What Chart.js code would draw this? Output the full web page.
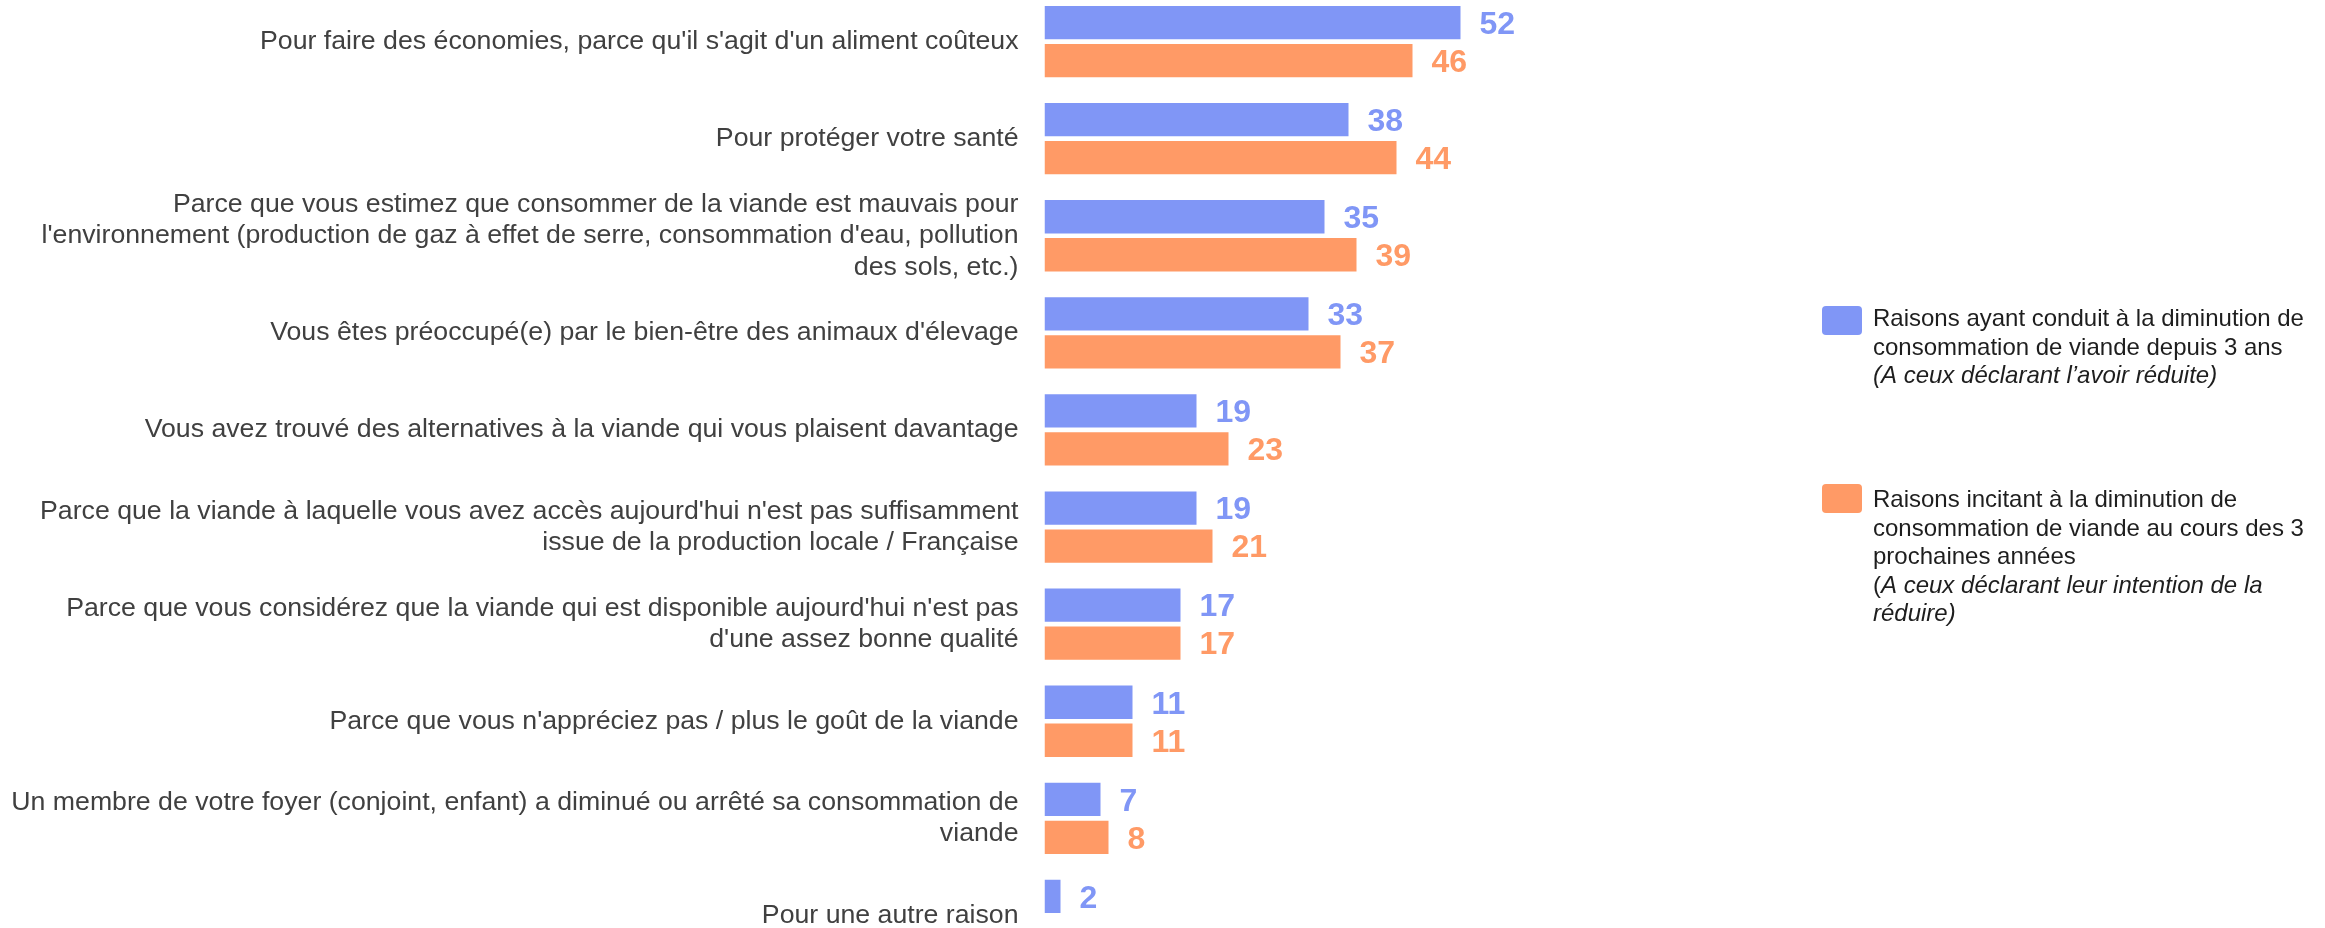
<!DOCTYPE html>
<html>
<head>
<meta charset="utf-8">
<script src="https://cdn.jsdelivr.net/npm/chart.js@4.4.1/dist/chart.umd.min.js"></script>
<style>
  html, body { margin: 0; padding: 0; background: #ffffff; overflow: hidden; width: 2325px; height: 928px; }
  #wrap { position: absolute; left: 0; top: -7px; width: 2325px; height: 971px; }
</style>
</head>
<body>
<div id="wrap"><canvas id="c" width="2325" height="971"></canvas></div>
<script>
const categories = [
  "Pour faire des économies, parce qu'il s'agit d'un aliment coûteux",
  "Pour protéger votre santé",
  ["Parce que vous estimez que consommer de la viande est mauvais pour",
   "l'environnement (production de gaz à effet de serre, consommation d'eau, pollution",
   "des sols, etc.)"],
  "Vous êtes préoccupé(e) par le bien-être des animaux d'élevage",
  "Vous avez trouvé des alternatives à la viande qui vous plaisent davantage",
  ["Parce que la viande à laquelle vous avez accès aujourd'hui n'est pas suffisamment",
   "issue de la production locale / Française"],
  ["Parce que vous considérez que la viande qui est disponible aujourd'hui n'est pas",
   "d'une assez bonne qualité"],
  "Parce que vous n'appréciez pas / plus le goût de la viande",
  ["Un membre de votre foyer (conjoint, enfant) a diminué ou arrêté sa consommation de",
   "viande"],
  "Pour une autre raison"
];
const seriesPast = [52, 38, 35, 33, 19, 19, 17, 11, 7, 2];
const seriesFuture = [46, 44, 39, 37, 23, 21, 17, 11, 8, null];

const legendPast = [
  [{t: "Raisons ayant conduit à la diminution de", i: false}],
  [{t: "consommation de viande depuis 3 ans", i: false}],
  [{t: "(A ceux déclarant l’avoir réduite)", i: true}]
];
const legendFuture = [
  [{t: "Raisons incitant à la diminution de", i: false}],
  [{t: "consommation de viande au cours des 3", i: false}],
  [{t: "prochaines années", i: false}],
  [{t: "(", i: false}, {t: "A ceux déclarant leur intention de la", i: true}],
  [{t: "réduire)", i: true}]
];

const BLUE = "rgb(128,150,246)";
const ORANGE = "rgb(255,154,102)";
const FONT = "'Liberation Sans', Arial, Helvetica, sans-serif";
const OFFY = 7; // canvas is shifted up by 7px

const valueLabels = {
  id: 'valueLabels',
  afterDatasetsDraw(chart) {
    const ctx = chart.ctx;
    ctx.save();
    ctx.font = "bold 32px " + FONT;
    ctx.textBaseline = "middle";
    ctx.textAlign = "left";
    chart.data.datasets.forEach((ds, di) => {
      const meta = chart.getDatasetMeta(di);
      meta.data.forEach((el, i) => {
        const v = ds.data[i];
        if (v === null || v === undefined) return;
        ctx.fillStyle = ds.backgroundColor;
        ctx.fillText(String(v), el.x + 19, el.y + 2.5);
      });
    });
    ctx.restore();
  }
};

function drawLegendBlock(ctx, color, swX, swY, textX, baseY, lines) {
  ctx.fillStyle = color;
  ctx.beginPath();
  ctx.roundRect(swX, swY + OFFY, 40, 29, 4);
  ctx.fill();
  ctx.fillStyle = "#1e1e1e";
  ctx.textBaseline = "alphabetic";
  ctx.textAlign = "left";
  lines.forEach((parts, li) => {
    let x = textX;
    const y = baseY + li * 28.5 + OFFY;
    parts.forEach(p => {
      ctx.font = (p.i ? "italic " : "") + "24px " + FONT;
      ctx.fillText(p.t, x, y);
      x += ctx.measureText(p.t).width;
    });
  });
}

const customLegend = {
  id: 'customLegend',
  afterDraw(chart) {
    const ctx = chart.ctx;
    ctx.save();
    drawLegendBlock(ctx, BLUE, 1822, 306, 1873, 326, legendPast);
    drawLegendBlock(ctx, ORANGE, 1822, 484, 1873, 507, legendFuture);
    ctx.restore();
  }
};

new Chart(document.getElementById('c'), {
  type: 'bar',
  data: {
    labels: categories,
    datasets: [
      { label: "Raisons ayant conduit à la diminution de consommation de viande depuis 3 ans", data: seriesPast, backgroundColor: BLUE, borderWidth: 0, categoryPercentage: 0.783, barPercentage: 0.876 },
      { label: "Raisons incitant à la diminution de consommation de viande au cours des 3 prochaines années", data: seriesFuture, backgroundColor: ORANGE, borderWidth: 0, categoryPercentage: 0.783, barPercentage: 0.876 }
    ]
  },
  options: {
    indexAxis: 'y',
    responsive: false,
    maintainAspectRatio: false,
    animation: false,
    devicePixelRatio: 1,
    layout: { padding: { left: 0, right: 480.5, top: 0, bottom: 0 } },
    plugins: { legend: { display: false }, tooltip: { enabled: false } },
    scales: {
      x: { display: false, min: 0, max: 100 },
      y: {
        afterFit(scale) {
          scale.width = 1044.5;
          scale.paddingTop = 0;
          scale.paddingBottom = 0;
        },
        grid: { display: false, drawTicks: false },
        border: { display: false },
        ticks: {
          padding: 26,
          autoSkip: false,
          color: "#404040",
          font: { family: FONT, size: 26.7, lineHeight: 1.18 }
        }
      }
    }
  },
  plugins: [valueLabels, customLegend]
});
</script>
</body>
</html>
